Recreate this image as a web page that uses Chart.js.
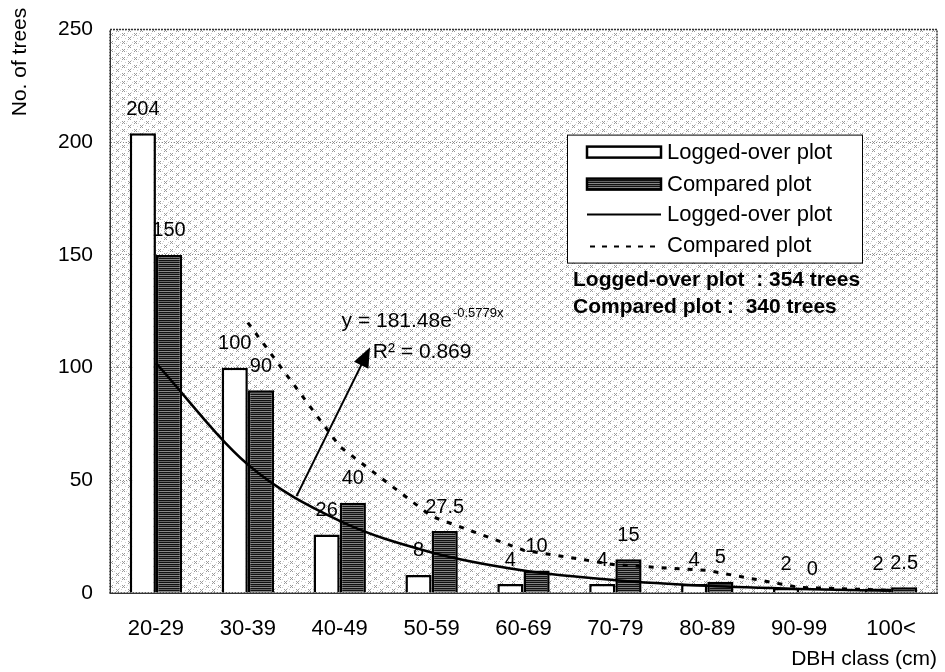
<!DOCTYPE html>
<html>
<head>
<meta charset="utf-8">
<script src="https://cdn.jsdelivr.net/npm/chart.js@4.4.0/dist/chart.umd.min.js"></script>
<style>
  html, body { margin: 0; padding: 0; background: #fff; }
</style>
</head>
<body>
<canvas id="myChart" width="945" height="672"></canvas>
<script>
// DBH classes and tree counts..................
var classes = ["20-29", "30-39", "40-49", "50-59", "60-69", "70-79", "80-89", "90-99", "100<"];
var loggedTrees = [204, 100, 26, 8, 4, 4, 4, 2, 2];
var comparedTrees = [150, 90, 40, 27.5, 10, 15, 5, 0, 2.5];

// trend lines
var loggedTrend = [102, 57, 32, 18, 10, 5.7, 3.2, 1.8, 1.0];
var comparedTrend = [null, 120, 65, 34, 19, 12.5, 10, 2.5, 1.2];

var yTicks = [0, 50, 100, 150, 200, 250];

var FONT = '"Liberation Sans", Arial, sans-serif';

function makePattern(w, h, draw) {
  var c = document.createElement("canvas");
  c.width = w;
  c.height = h;
  var g = c.getContext("2d");
  draw(g);
  return g.createPattern(c, "repeat");
}

// dark striped fill of compared plot bars
var hatch = makePattern(4, 4, function (g) {
  g.fillStyle = "#111"; g.fillRect(0, 0, 4, 4);
  g.fillStyle = "#666"; g.fillRect(0, 1, 4, 1);
  g.fillStyle = "#888"; g.fillRect(0, 3, 4, 1);
});

// halftone dots of the plot background
var dots = makePattern(12, 8, function (g) {
  g.fillStyle = "#fff"; g.fillRect(0, 0, 12, 8);
  g.fillStyle = "#9a9a9a";
  [[2, 1], [4, 1], [3, 2], [2, 3], [4, 3], [8, 5], [10, 5], [9, 6], [8, 7], [10, 7]].forEach(function (p) {
    g.fillRect(p[0], p[1], 1, 1);
  });
  g.fillStyle = "#d0d0d0";
  [[7, 1], [0, 2], [6, 3], [11, 4], [1, 5], [5, 6]].forEach(function (p) {
    g.fillRect(p[0], p[1], 1, 1);
  });
});

var treePlugin = {
  id: "treePlugin",
  beforeDraw: function (chart) {
    var ctx = chart.ctx, a = chart.chartArea;
    ctx.save();
    ctx.fillStyle = dots;
    ctx.fillRect(a.left, a.top, a.right - a.left, a.bottom - a.top);
    ctx.restore();
  },
  afterDatasetsDraw: function (chart) {
    var ctx = chart.ctx;
    ctx.save();
    ctx.font = "20px " + FONT;
    ctx.fillStyle = "#000";
    ctx.textAlign = "center";
    ctx.textBaseline = "middle";
    [0, 1].forEach(function (di) {
      var meta = chart.getDatasetMeta(di);
      var vals = chart.data.datasets[di].data;
      meta.data.forEach(function (bar, i) {
        ctx.fillText(String(vals[i]), bar.x, bar.y - 24);
      });
    });
    ctx.restore();
  },
  afterDraw: function (chart) {
    var ctx = chart.ctx, a = chart.chartArea;
    var xs = chart.scales.x, ys = chart.scales.y;
    ctx.save();

    // plot border
    ctx.strokeStyle = "#333";
    ctx.lineWidth = 1.5;
    ctx.setLineDash([2, 1]);
    ctx.strokeRect(a.left, a.top, a.right - a.left, a.bottom - a.top);
    ctx.setLineDash([]);

    // y title at the top
    ctx.save();
    ctx.translate(20, 62);
    ctx.rotate(-Math.PI / 2);
    ctx.font = "21px " + FONT;
    ctx.fillStyle = "#000";
    ctx.textAlign = "center";
    ctx.textBaseline = "middle";
    ctx.fillText("No. of trees", 0, 0);
    ctx.restore();

    // equation + arrow
    ctx.fillStyle = "#000";
    ctx.textAlign = "left";
    ctx.textBaseline = "middle";
    ctx.font = "21px " + FONT;
    var ex = xs.getPixelForValue(2.02), ey = ys.getPixelForValue(120.5);
    ctx.fillText("y = 181.48e", ex, ey);
    var w = ctx.measureText("y = 181.48e").width;
    ctx.font = "13px " + FONT;
    ctx.fillText("-0.5779x", ex + w + 1, ey - 8);
    ctx.font = "21px " + FONT;
    ctx.fillText("R² = 0.869", xs.getPixelForValue(2.36), ys.getPixelForValue(107));

    var x0 = xs.getPixelForValue(1.53), y0 = ys.getPixelForValue(43);
    var x1 = xs.getPixelForValue(2.33), y1 = ys.getPixelForValue(109);
    var ang = Math.atan2(y1 - y0, x1 - x0);
    ctx.strokeStyle = "#000";
    ctx.lineWidth = 2;
    ctx.beginPath();
    ctx.moveTo(x0, y0);
    ctx.lineTo(x1 - 14 * Math.cos(ang), y1 - 14 * Math.sin(ang));
    ctx.stroke();
    ctx.beginPath();
    ctx.moveTo(x1, y1);
    ctx.lineTo(x1 - 20 * Math.cos(ang) + 8 * Math.sin(ang), y1 - 20 * Math.sin(ang) - 8 * Math.cos(ang));
    ctx.lineTo(x1 - 20 * Math.cos(ang) - 8 * Math.sin(ang), y1 - 20 * Math.sin(ang) + 8 * Math.cos(ang));
    ctx.closePath();
    ctx.fill();

    // legend box
    var lx = a.left + 457, ly = a.top + 105;
    ctx.fillStyle = "#fff";
    ctx.fillRect(lx, ly, 295, 128);
    ctx.strokeStyle = "#000";
    ctx.lineWidth = 1;
    ctx.strokeRect(lx + 0.5, ly + 0.5, 295, 128);

    ctx.lineWidth = 2.5;
    ctx.fillStyle = "#fff";
    ctx.fillRect(lx + 20, ly + 12, 74, 11);
    ctx.strokeRect(lx + 20, ly + 12, 74, 11);
    ctx.fillStyle = hatch;
    ctx.fillRect(lx + 20, ly + 44, 74, 11);
    ctx.strokeRect(lx + 20, ly + 44, 74, 11);
    ctx.lineWidth = 2;
    ctx.beginPath();
    ctx.moveTo(lx + 20, ly + 80);
    ctx.lineTo(lx + 94, ly + 80);
    ctx.stroke();
    ctx.setLineDash([5, 7]);
    ctx.beginPath();
    ctx.moveTo(lx + 23, ly + 112);
    ctx.lineTo(lx + 94, ly + 112);
    ctx.stroke();
    ctx.setLineDash([]);

    ctx.fillStyle = "#000";
    ctx.font = "22px " + FONT;
    ctx.fillText("Logged-over plot", lx + 100, ly + 18);
    ctx.fillText("Compared plot", lx + 100, ly + 50);
    ctx.fillText("Logged-over plot", lx + 100, ly + 80);
    ctx.fillText("Compared plot", lx + 100, ly + 111);

    // totals
    ctx.font = "bold 21px " + FONT;
    ctx.fillText("Logged-over plot  : 354 trees", a.left + 463, a.top + 251);
    ctx.fillText("Compared plot :  340 trees", a.left + 463, a.top + 278);

    ctx.restore();
  }
};

new Chart("myChart", {
  type: "bar",
  data: {
    labels: classes,
    datasets: [
      {
        label: "Logged-over plot",
        data: loggedTrees,
        backgroundColor: "#fff",
        borderColor: "#000",
        borderWidth: 2.5,
        order: 2
      },
      {
        label: "Compared plot",
        data: comparedTrees,
        backgroundColor: hatch,
        borderColor: "#000",
        borderWidth: 2.5,
        order: 2
      },
      {
        type: "line",
        label: "Logged-over plot",
        data: loggedTrend,
        borderColor: "#000",
        borderWidth: 2.5,
        pointRadius: 0,
        cubicInterpolationMode: "monotone",
        order: 1
      },
      {
        type: "line",
        label: "Compared plot",
        data: comparedTrend,
        borderColor: "#000",
        borderWidth: 3,
        borderDash: [5, 8],
        pointRadius: 0,
        tension: 0,
        order: 1
      }
    ]
  },
  options: {
    responsive: false,
    animation: false,
    layout: { padding: { top: 27, right: 8, left: 0, bottom: 0 } },
    datasets: {
      bar: { categoryPercentage: 0.57, barPercentage: 1.0 }
    },
    plugins: {
      legend: { display: false },
      tooltip: { enabled: false }
    },
    scales: {
      x: {
        grid: { display: false },
        border: { display: true, color: "#333", width: 1 },
        ticks: { color: "#000", padding: 15, font: { family: FONT, size: 22 } },
        title: {
          display: true,
          text: "DBH class (cm)",
          align: "end",
          color: "#000",
          padding: { top: 0, bottom: 0 },
          font: { family: FONT, size: 21 }
        },
        afterFit: function (s) { s.height = 79; }
      },
      y: {
        min: yTicks[0],
        max: yTicks[yTicks.length - 1],
        afterBuildTicks: function (s) {
          s.ticks = yTicks.map(function (v) { return { value: v }; });
        },
        grid: { color: "#888", drawTicks: false },
        border: { display: true, color: "#333", dash: [1, 2] },
        ticks: { color: "#000", padding: 17, font: { family: FONT, size: 21 } },
        afterFit: function (s) { s.width = 110; }
      }
    }
  },
  plugins: [treePlugin]
});
</script>
</body>
</html>
